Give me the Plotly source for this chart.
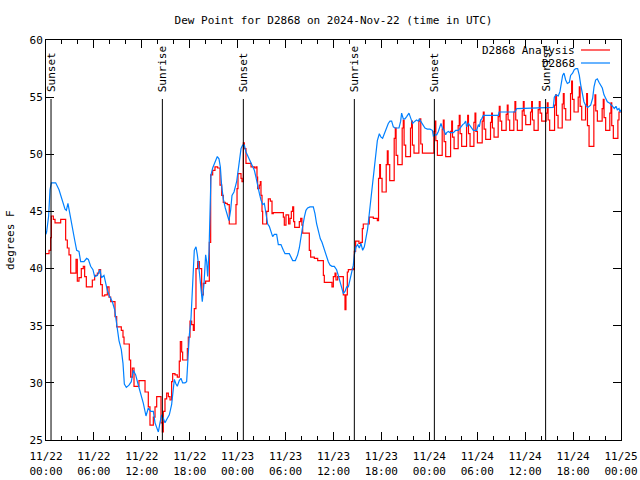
import plotly.graph_objects as go

# ---------------- data (hours since 2024-11-22 00:00 UTC) ----------------
tick_hours = [0, 6, 12, 18, 24, 30, 36, 42, 48, 54, 60, 66, 72]
tick_labels = ["11/22<br>00:00", "11/22<br>06:00", "11/22<br>12:00", "11/22<br>18:00",
               "11/23<br>00:00", "11/23<br>06:00", "11/23<br>12:00", "11/23<br>18:00",
               "11/24<br>00:00", "11/24<br>06:00", "11/24<br>12:00", "11/24<br>18:00",
               "11/25<br>00:00"]

sun_hours = [0.63, 14.57, 24.71, 38.61, 48.63, 62.56]
sun_labels = ["Sunset", "Sunrise", "Sunset", "Sunrise", "Sunset", "Sunrise"]

# observed dew point (D2868)
obs_hours = [0.0, 0.08, 0.33, 0.50, 0.67, 1.21, 1.63, 2.05, 2.38, 2.55, 2.75, 3.01, 3.30, 3.59, 3.84,
             4.13, 4.34, 4.76, 5.09, 5.30, 5.59, 5.88, 6.09, 6.43, 6.76, 6.93, 7.26, 7.47, 7.68, 8.01,
             8.31, 8.60, 8.85, 9.14, 9.43, 9.64, 9.81, 10.06, 10.39, 10.68, 10.93, 11.23, 11.52, 11.85,
             12.19, 12.52, 12.81, 13.11, 13.44, 13.65, 13.94, 14.07, 14.27, 14.48, 14.69, 14.90, 15.11,
             15.44, 15.73, 15.94, 16.07, 16.28, 16.44, 16.69, 16.90, 17.11, 17.40, 17.61, 17.74, 17.95,
             18.16, 18.32, 18.45, 18.57, 18.78, 18.95, 19.20, 19.41, 19.57, 19.78, 19.99, 20.12, 20.24,
             20.41, 20.53, 20.66, 20.87, 21.04, 21.29, 21.45, 21.66, 21.83, 21.99, 22.20, 22.45, 22.70,
             22.91, 23.12, 23.29, 23.54, 23.87, 24.12, 24.42, 24.62, 24.83, 25.04, 25.25, 25.46, 25.67,
             25.88, 26.09, 26.29, 26.50, 26.71, 26.92, 27.13, 27.34, 27.55, 27.76, 27.96, 28.17, 28.38,
             28.59, 28.88, 29.09, 29.42, 29.72, 29.93, 30.47, 30.68, 30.89, 31.22, 31.51, 31.72, 31.93,
             32.14, 32.35, 32.55, 32.76, 33.06, 33.47, 33.68, 33.89, 34.14, 34.35, 34.56, 34.77, 34.98,
             35.14, 35.35, 35.56, 35.81, 36.10, 36.39, 36.60, 36.81, 37.02, 37.23, 37.44, 37.65, 37.86,
             38.06, 38.27, 38.48, 38.61, 38.82, 39.02, 39.23, 39.44, 39.65, 39.86, 40.07, 40.28, 40.48,
             40.65, 40.86, 41.07, 41.28, 41.49, 41.74, 41.95, 42.15, 42.36, 42.66, 42.86, 43.07, 43.28,
             43.49, 43.70, 43.91, 44.20, 44.41, 44.53, 44.74, 44.95, 45.16, 45.45, 45.70, 45.91, 46.20,
             46.41, 46.62, 46.75, 46.91, 47.16, 47.45, 47.75, 48.08, 48.38, 48.50, 48.71, 48.92, 49.13,
             49.34, 49.46, 49.63, 49.84, 50.05, 50.17, 50.38, 50.59, 51.01, 51.30, 51.63, 51.80, 51.97,
             52.18, 52.38, 52.55, 52.68, 52.89, 53.09, 53.30, 53.51, 53.93, 54.14, 54.26, 54.43, 54.56,
             54.76, 56.64, 56.73, 58.73, 58.94, 63.52, 63.65, 63.86, 64.15, 64.36, 64.57, 64.69, 64.86,
             65.07, 65.28, 65.53, 65.69, 65.94, 66.15, 66.36, 66.57, 66.78, 66.95, 67.15, 67.36, 67.57,
             67.82, 68.03, 68.20, 68.45, 68.62, 68.82, 69.03, 69.24, 69.45, 69.66, 69.87, 70.08, 70.29,
             70.54, 70.74, 70.95, 71.16, 71.37, 71.54, 71.75, 71.87, 72.0]
obs_dewpt = [43.0, 43.2, 44.6, 46.9, 47.5, 47.5, 46.9, 45.9, 45.2, 45.1, 45.7, 44.7, 43.4, 42.5, 41.6,
             41.5, 40.6, 40.6, 40.9, 40.8, 40.2, 39.9, 39.3, 39.4, 39.9, 39.2, 39.4, 38.7, 38.1, 37.5,
             37.1, 36.4, 34.9, 33.7, 32.9, 31.7, 29.9, 29.6, 29.8, 30.1, 31.1, 30.7, 29.9, 29.1,
             28.2, 27.1, 27.8, 27.5, 27.5, 26.5, 26.0, 25.7, 26.5, 27.2, 26.9, 26.5, 26.8,
             27.2, 28.1, 29.5, 30.3, 29.9, 29.7, 30.2, 30.4, 30.0, 30.0, 30.1, 32.2, 34.2,
             35.7, 37.7, 40.0, 41.6, 41.9, 41.2, 39.7, 38.0, 37.1, 38.6, 41.2, 40.6, 39.3,
             41.5, 45.9, 48.2, 48.8, 49.1, 49.5, 49.8, 49.6, 48.9, 47.3, 46.1, 45.3, 44.8,
             44.2, 45.1, 46.4, 46.7, 47.6, 48.9, 50.5, 50.8, 50.8, 50.2, 49.9, 49.6, 49.2,
             48.9, 48.6, 48.0, 47.2, 46.6, 46.0, 45.6, 45.7, 44.8, 43.9, 43.7, 43.2, 42.8,
             43.0, 43.0, 42.1, 42.1, 41.6, 41.3, 41.3, 41.0, 40.7, 40.7, 41.2, 41.8, 42.9,
             43.7, 44.5, 45.1, 45.3, 45.4, 45.4, 44.8, 43.9, 43.2, 42.6, 42.3, 41.8, 41.5,
             41.0, 40.6, 40.3, 40.2, 40.2, 39.9, 39.4, 38.9, 38.4, 37.8, 38.0, 38.4, 38.4,
             39.0, 39.7, 40.3, 41.2, 41.9, 42.1, 41.8, 42.2, 41.6, 41.9, 42.8, 43.5, 44.8,
             45.9, 47.3, 48.9, 50.2, 51.2, 51.8, 51.5, 51.4, 51.8, 52.3, 52.7, 52.9, 52.9,
             52.4, 52.3, 52.3, 52.3, 52.9, 53.6, 53.1, 53.1, 53.3, 53.6, 53.1, 52.7, 52.9,
             53.0, 52.9, 53.1, 52.9, 52.6, 52.3, 52.2, 52.2, 52.1, 51.6, 51.7, 51.7, 52.0,
             52.4, 52.7, 52.3, 52.1, 51.7, 51.9, 52.0, 51.9, 51.9, 52.1, 52.1, 52.3, 52.4,
             52.6, 52.7, 52.9, 52.4, 52.7, 52.5, 52.4, 52.1, 52.1, 52.6, 52.4, 53.0, 53.1,
             53.4, 53.4, 53.7, 53.7, 54.0, 54.1, 55.0, 55.2, 55.1, 55.5, 56.4, 56.9, 57.1,
             56.5, 56.2, 56.3, 56.9, 57.1, 57.4, 57.5, 57.5, 56.9, 56.1, 55.2, 54.6, 54.3,
             54.1, 54.2, 54.3, 54.9, 55.9, 56.5, 56.6, 56.3, 56.1, 55.8, 55.2, 54.9, 54.6,
             54.5, 54.3, 54.2, 54.0, 54.2, 53.9, 54.0, 53.7, 53.9]

# analysis dew point (D2868 Analysis) up to the start of the hourly pulses
ana_hours = [0.0, 0.38, 0.58, 0.67, 0.92, 1.13, 1.63, 1.84, 2.34, 2.46, 2.67, 2.88, 3.09, 3.59, 3.76,
             3.92, 4.13, 4.42, 4.67, 4.84, 5.05, 5.59, 5.80, 6.09, 6.43, 6.64, 6.84, 7.05, 7.35, 7.68,
             7.89, 8.10, 8.51, 8.64, 8.85, 9.14, 9.43, 9.64, 9.77, 10.27, 10.43, 10.60, 10.81, 11.02,
             11.44, 11.64, 12.27, 12.40, 12.60, 12.81, 13.02, 13.31, 13.44, 13.65, 13.86, 14.27, 14.40,
             14.57, 14.69, 14.90, 15.11, 15.32, 15.53, 15.73, 15.86, 16.15, 16.44, 16.69, 16.82, 16.99,
             17.11, 17.53, 17.70, 17.82, 18.03, 18.24, 18.45, 18.57, 18.78, 18.99, 19.20, 19.49, 19.70,
             19.99, 20.33, 20.45, 20.62, 20.87, 21.16, 21.49, 21.79, 22.00, 22.20, 22.45, 22.70, 22.95,
             23.58, 23.79, 23.92, 24.04, 24.29, 24.42, 24.54, 24.71, 24.83, 25.04, 25.46, 25.67, 25.96,
             26.09, 26.29, 26.42, 26.50, 26.71, 26.84, 26.92, 27.05, 27.13, 27.46, 27.63, 27.84, 28.09,
             28.30, 28.46, 29.51, 29.72, 29.84, 30.05, 30.26, 30.38, 30.55, 30.72, 30.89, 31.01, 31.14,
             31.55, 31.72, 31.89, 32.05, 32.14, 32.76, 32.97, 33.14, 33.60, 34.02, 34.56, 34.73, 34.85,
             35.60, 35.81, 35.98, 36.19, 36.31, 36.52, 37.10, 37.23, 37.35, 37.44, 37.56, 37.73, 37.86,
             38.19, 38.36, 38.48, 38.61, 38.77, 38.98, 39.19, 39.40, 39.61, 39.73, 40.36, 40.48, 40.78,
             40.99, 41.49]
ana_dewpt = [41.3, 41.6, 42.7, 44.6, 44.3, 44.0, 44.0, 44.3, 44.3, 42.5, 41.8, 41.2, 39.6, 39.6, 40.8,
             38.9, 39.2, 40.0, 40.2, 39.3, 38.4, 38.4, 39.0, 39.4, 39.6, 39.9, 38.6, 37.6, 37.7, 38.4,
             37.5, 37.1, 37.1, 35.8, 34.9, 34.9, 34.6, 34.0, 33.4, 33.4, 32.0, 30.5, 31.3, 29.7,
             29.7, 30.2, 30.2, 29.2, 29.2, 27.9, 26.3, 26.3, 27.0, 27.9, 28.8, 28.8, 26.5,
             25.7, 27.5, 28.6, 29.1, 28.8, 28.5, 30.1, 30.8, 30.7, 30.5, 31.9, 33.6, 32.7,
             32.0, 32.0, 33.0, 34.0, 35.4, 35.1, 34.6, 36.5, 40.0, 40.6, 40.0, 37.7, 38.7,
             38.9, 38.9, 42.3, 48.2, 48.6, 48.9, 48.8, 47.3, 46.4, 45.8, 45.7, 45.6, 43.9,
             43.9, 45.6, 47.0, 48.3, 48.3, 47.9, 47.6, 51.0, 50.5, 49.2, 49.2, 48.9, 48.9,
             48.8, 48.9, 48.0, 47.0, 47.3, 47.6, 46.4, 45.0, 43.9, 43.9, 45.0, 46.1, 45.9,
             44.8, 44.9, 44.9, 44.5, 43.8, 44.7, 44.7, 43.9, 44.4, 45.0, 45.4, 44.1, 43.6,
             43.6, 44.1, 44.4, 43.8, 43.1, 43.1, 41.6, 41.0, 40.9, 40.7, 40.7, 39.4, 38.8,
             38.8, 38.4, 39.3, 39.6, 39.0, 39.3, 39.3, 37.7, 37.7, 36.4, 37.7, 39.7, 39.9,
             39.9, 40.0, 39.9, 41.5, 42.4, 42.4, 42.2, 42.3, 43.5, 43.9, 43.9, 44.5, 44.5,
             44.4, 44.2]

# hourly analysis pulses (time of peak, value just before, peak, value just after, settled low)
pulse_hours = [41.78, 42.74, 43.74, 44.74, 45.78, 46.83, 48.71, 49.75, 50.80, 51.75, 52.80, 53.72,
               54.76, 55.80, 56.76, 57.76, 58.72, 59.77, 60.81, 61.77, 62.77, 63.82, 64.78, 65.82,
               66.78, 67.70, 68.74, 69.78, 70.74, 71.75]
pulse_pre = [47.9, 49.1, 51.4, 52.3, 52.3, 52.9, 52.0, 52.2, 52.0, 52.5, 52.5, 52.8, 52.9, 52.8, 53.3,
             53.5, 53.7, 53.8, 53.7, 53.9, 53.6, 54.3, 54.4, 55.3, 55.0, 54.3, 54.3, 54.0, 53.6, 53.0]
pulse_peak = [49.1, 50.3, 52.3, 53.0, 52.9, 53.1, 52.9, 53.0, 52.9, 53.4, 53.4, 53.6, 53.7, 53.6, 54.2,
              54.3, 54.6, 54.6, 54.6, 54.6, 54.5, 55.2, 55.3, 56.4, 55.9, 55.3, 55.2, 54.8, 54.5, 53.7]
pulse_post = [47.9, 49.1, 49.9, 50.8, 50.8, 50.9, 51.2, 51.1, 51.5, 51.8, 51.8, 52.0, 52.2, 52.3, 52.9,
              53.0, 53.0, 53.4, 53.0, 53.6, 53.0, 53.4, 54.0, 54.8, 54.2, 52.5, 53.8, 53.2, 52.5, 53.7]
pulse_low = [46.7, 47.7, 49.1, 49.8, 50.1, 50.1, 49.9, 49.8, 50.5, 50.7, 50.7, 51.0, 51.3, 51.5, 52.1,
             52.1, 52.1, 52.6, 52.1, 52.9, 52.1, 52.3, 53.0, 53.7, 53.0, 50.7, 52.9, 52.1, 51.4, 53.7]

x_end = 72.0

# ---------------- build analysis series ----------------
a_x = list(ana_hours)
a_y = list(ana_dewpt)
prev_low = ana_dewpt[-1]
for t, pre, pk, post, low in zip(pulse_hours, pulse_pre, pulse_peak, pulse_post, pulse_low):
    a_x += [t - 0.16, t - 0.14, t, t + 0.10, t + 0.30]
    a_y += [prev_low, pre, pk, post, low]
    prev_low = low
a_x.append(x_end)
a_y.append(prev_low)

FIG_W, FIG_H = 640, 480
PL, PT, PR, PB = 46, 40, 19, 40   # plot box: x 46..621, y 40..440
PW = FIG_W - PL - PR
PH = FIG_H - PT - PB

FONT = "DejaVu Sans Mono"
fig = go.Figure()
fig.add_trace(go.Scatter(x=a_x, y=a_y, mode="lines", name="D2868 Analysis", line_shape="hv",
                         line=dict(color="#ff0000", width=1.2)))
fig.add_trace(go.Scatter(x=obs_hours, y=obs_dewpt, mode="lines", name="D2868",
                         line=dict(color="#0080ff", width=1.2)))

line_top = (PH - 59) / PH
label_bottom = (PH - 54) / PH
for t, lab in zip(sun_hours, sun_labels):
    fig.add_shape(type="line", xref="x", yref="paper", x0=t, x1=t, y0=0, y1=line_top,
                  line=dict(color="black", width=1))
    fig.add_annotation(x=t, xref="x", y=label_bottom, yref="paper", text=lab, textangle=-90,
                       showarrow=False, xanchor="center", yanchor="bottom",
                       font=dict(family=FONT, size=11, color="black"))

# key (top right, gnuplot style: text then sample line)
key_rows = [("D2868 Analysis", "#ff0000"), ("D2868", "#0080ff")]
for i, (name, col) in enumerate(key_rows):
    ypix = 10 + 13 * i          # below the plot top
    yp = (PH - ypix) / PH
    fig.add_annotation(x=531 / PW, xref="paper", y=yp, yref="paper", text=name,
                       showarrow=False, xanchor="right", yanchor="middle",
                       font=dict(family=FONT, size=11, color="black"))
    fig.add_shape(type="line", xref="paper", yref="paper", x0=535 / PW,
                  x1=564 / PW, y0=yp, y1=yp, line=dict(color=col, width=1.2))

fig.add_annotation(x=-36 / PW, xref="paper", y=0.5, yref="paper", text="degrees F",
                   textangle=-90, showarrow=False, xanchor="center", yanchor="middle",
                   font=dict(family=FONT, size=11, color="black"))

fig.update_layout(
    width=FIG_W, height=FIG_H,
    margin=dict(l=PL, r=PR, t=PT, b=PB, autoexpand=False),
    paper_bgcolor="white", plot_bgcolor="white",
    showlegend=False,
    hovermode=False,
    title=dict(text="Dew Point for D2868 on 2024-Nov-22 (time in UTC)",
               x=(PL + PW / 2) / FIG_W, xanchor="center",
               y=1 - 20 / FIG_H, yanchor="middle", automargin=False,
               font=dict(family=FONT, size=11, color="black")),
    font=dict(family=FONT, size=11, color="black"),
)
fig.update_xaxes(range=[0, x_end], tickmode="array", tickvals=tick_hours, ticktext=tick_labels,
                 ticks="inside", ticklen=8, tickcolor="black", showgrid=False, zeroline=False,
                 showline=True, linecolor="black", linewidth=1, mirror="allticks", automargin=False,
                 minor=dict(tickmode="linear", tick0=0, dtick=2, ticks="inside", ticklen=4,
                            tickcolor="black", showgrid=False),
                 ticklabelstandoff=6,
                 tickfont=dict(family=FONT, size=11, color="black"))
fig.update_yaxes(range=[25, 60], tickmode="linear", tick0=25, dtick=5,
                 ticks="inside", ticklen=8, tickcolor="black", showgrid=False, zeroline=False,
                 showline=True, linecolor="black", linewidth=1, mirror="allticks", automargin=False,
                 tickfont=dict(family=FONT, size=11, color="black"))

# remove the browser's default 8 px body margin so the 640x480 figure fills the window
fig.write_html("out.html", config={"displayModeBar": False, "staticPlot": True},
               post_script="document.body.style.margin='0px';document.body.style.overflow='hidden';")
